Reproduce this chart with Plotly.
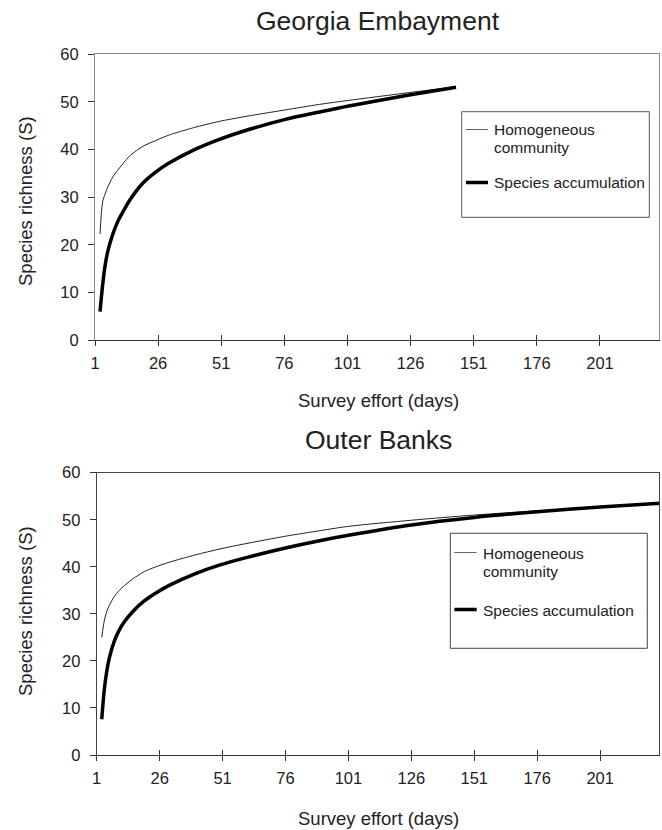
import plotly.graph_objects as go

# ---------------- data ----------------
ge_days = [3, 4, 5, 6, 8, 10, 12, 15, 20, 25, 30, 40, 50, 60, 76, 90, 101, 126, 144]
ge_homog = [22.3, 29.0, 30.7, 32.1, 34.2, 35.7, 37.0, 38.8, 40.7, 41.9, 43.0, 44.6, 45.9,
            46.9, 48.3, 49.5, 50.3, 52.0, 53.2]
ge_accum = [6.0, 11.5, 15.7, 18.5, 22.2, 24.9, 26.9, 29.6, 33.0, 35.3, 37.1, 39.9, 42.1,
            43.9, 46.3, 47.9, 49.1, 51.5, 53.1]

ob_days = [3, 4, 5, 6, 8, 10, 12, 15, 20, 25, 30, 40, 50, 60, 76, 90, 101, 126, 151, 176, 201, 225]
ob_homog = [25.0, 28.5, 30.5, 31.8, 33.7, 35.0, 36.0, 37.3, 39.0, 40.1, 41.0, 42.5, 43.8,
            44.9, 46.5, 47.7, 48.6, 49.9, 51.0, 51.9, 52.7, 53.5]
ob_accum = [7.6, 13.8, 17.8, 20.6, 24.2, 26.6, 28.3, 30.3, 32.8, 34.6, 36.1, 38.5, 40.4,
            41.9, 44.0, 45.6, 46.7, 48.9, 50.5, 51.7, 52.7, 53.5]

x_ticks = [1, 26, 51, 76, 101, 126, 151, 176, 201]
y_ticks = [0, 10, 20, 30, 40, 50, 60]
titles = ["Georgia Embayment", "Outer Banks"]
legend_lines = [["Homogeneous", "community"], ["Species accumulation"]]
series_names = ["Homogeneous community", "Species accumulation"]

# ---------------- layout geometry (pixels) ----------------
W, H = 662, 830
FONT = "Liberation Sans, Arial, Helvetica, sans-serif"
TXT = "#222222"


def px_x(v):
    return v / W


def px_y(v):
    return 1 - v / H


top_dom_x = [px_x(95), px_x(659.3)]
top_dom_y = [px_y(340.3), px_y(54.3)]
bot_dom_x = [px_x(96.7), px_x(659.3)]
bot_dom_y = [px_y(755), px_y(472.7)]

THIN = dict(color="#222222", width=1, shape="spline", smoothing=0.8)
THICK = dict(color="#000000", width=3.5, shape="spline", smoothing=0.8)

fig = go.Figure()

# top chart
fig.add_trace(go.Scatter(x=ge_days, y=ge_homog, mode="lines", name=series_names[0],
                         line=THIN, xaxis="x", yaxis="y"))
fig.add_trace(go.Scatter(x=ge_days, y=ge_accum, mode="lines", name=series_names[1],
                         line=THICK, xaxis="x", yaxis="y"))
# bottom chart
fig.add_trace(go.Scatter(x=ob_days, y=ob_homog, mode="lines", name=series_names[0],
                         line=THIN, xaxis="x2", yaxis="y2"))
fig.add_trace(go.Scatter(x=ob_days, y=ob_accum, mode="lines", name=series_names[1],
                         line=THICK, xaxis="x2", yaxis="y2"))
# invisible anchors for the overlay axes that carry the inward half of the tick marks
fig.add_trace(go.Scatter(x=[1], y=[0], mode="markers", marker=dict(opacity=0),
                         xaxis="x3", yaxis="y", hoverinfo="skip"))
fig.add_trace(go.Scatter(x=[1], y=[0], mode="markers", marker=dict(opacity=0),
                         xaxis="x4", yaxis="y2", hoverinfo="skip"))

tickfont = dict(family=FONT, size=16.5, color=TXT)
frame_top = "#8c8c8c"
frame_bot = "#444444"
axis_dark = "#333333"
X_RANGE = [1, 224.5]


def xaxis(dom, anchor, frame_color):
    return dict(domain=dom, anchor=anchor, range=X_RANGE, tickmode="array",
                tickvals=x_ticks, ticktext=[str(t) for t in x_ticks],
                ticks="outside", ticklen=5, tickcolor=axis_dark, tickwidth=1,
                showline=True, linecolor=frame_color, linewidth=1, mirror=True,
                showgrid=False, zeroline=False, tickfont=tickfont,
                ticklabelstandoff=3, fixedrange=True, automargin=False)


def xaxis_overlay(dom, anchor, over):
    return dict(domain=dom, anchor=anchor, overlaying=over, range=X_RANGE,
                tickmode="array", tickvals=x_ticks, ticks="inside", ticklen=5,
                tickcolor=axis_dark, tickwidth=1, showline=True, linecolor=axis_dark,
                linewidth=1, showticklabels=False, showgrid=False, zeroline=False,
                side="bottom", fixedrange=True, automargin=False)


def yaxis(dom, anchor, frame_color):
    return dict(domain=dom, anchor=anchor, range=[0, 60], tickmode="array",
                tickvals=y_ticks, ticks="outside", ticklen=6, tickcolor=axis_dark,
                showline=True, linecolor=frame_color, linewidth=1, mirror=True,
                showgrid=False, zeroline=False, tickfont=tickfont,
                ticklabelstandoff=6, fixedrange=True, automargin=False)


fig.update_layout(
    template="none",
    width=W, height=H,
    margin=dict(l=0, r=0, t=0, b=0, pad=0, autoexpand=False),
    paper_bgcolor="white", plot_bgcolor="white",
    font=dict(family=FONT, color=TXT),
    xaxis=xaxis(top_dom_x, "y", frame_top),
    yaxis=yaxis(top_dom_y, "x", frame_top),
    xaxis2=xaxis(bot_dom_x, "y2", frame_bot),
    yaxis2=yaxis(bot_dom_y, "x2", frame_bot),
    xaxis3=xaxis_overlay(top_dom_x, "y", "x"),
    xaxis4=xaxis_overlay(bot_dom_x, "y2", "x2"),
    showlegend=False,
)

# ---------------- legends (frame, line keys, labels) ----------------
legend_specs = [
    dict(frame=(461.7, 649.3, 111.7, 217.3), kx=(466, 488), tx=492.7,
         ty=[130, 148, 182.7], ky=[129.5, 182.5], fc="#555555"),
    dict(frame=(450.3, 647.3, 533.3, 648.3), kx=(454.3, 476.7), tx=481.7,
         ty=[553.3, 571.7, 610], ky=[552.5, 609.5], fc="#444444"),
]
leg_font = dict(family=FONT, size=15.5, color=TXT)
for spec in legend_specs:
    fx0, fx1, fy0, fy1 = spec["frame"]
    fig.add_shape(type="rect", xref="paper", yref="paper",
                  x0=px_x(fx0), x1=px_x(fx1), y0=px_y(fy1), y1=px_y(fy0),
                  line=dict(color=spec["fc"], width=1))
    for style, ky in zip([dict(color="#666666", width=1), dict(color="#000000", width=3.5)],
                         spec["ky"]):
        fig.add_shape(type="line", xref="paper", yref="paper",
                      x0=px_x(spec["kx"][0]), x1=px_x(spec["kx"][1]),
                      y0=px_y(ky), y1=px_y(ky), line=style)
    texts = legend_lines[0] + legend_lines[1]
    for t, ty in zip(texts, spec["ty"]):
        fig.add_annotation(text=t, x=px_x(spec["tx"]), y=px_y(ty), xref="paper",
                           yref="paper", showarrow=False, font=leg_font,
                           xanchor="left", yanchor="middle", borderpad=0)

# ---------------- titles ----------------
title_font = dict(family=FONT, size=26.5, color=TXT)
axtitle_font = dict(family=FONT, size=18.5, color=TXT)

fig.add_annotation(text=titles[0], x=px_x(378), y=px_y(21), xref="paper", yref="paper",
                   showarrow=False, font=title_font, xanchor="center", yanchor="middle")
fig.add_annotation(text=titles[1], x=px_x(378), y=px_y(440), xref="paper", yref="paper",
                   showarrow=False, font=title_font, xanchor="center", yanchor="middle")

for yc in (401, 818):
    fig.add_annotation(text="Survey effort (days)", x=px_x(378), y=px_y(yc), xref="paper",
                       yref="paper", showarrow=False, font=axtitle_font,
                       xanchor="center", yanchor="middle")
for yc in (201, 611):
    fig.add_annotation(text="Species richness (S)", x=px_x(25), y=px_y(yc), xref="paper",
                       yref="paper", showarrow=False, font=axtitle_font, textangle=-90,
                       xanchor="center", yanchor="middle")

fig.write_html(
    "out.html",
    config={"displayModeBar": False},
    post_script="document.body.style.margin='0';document.body.style.overflow='hidden';",
)
